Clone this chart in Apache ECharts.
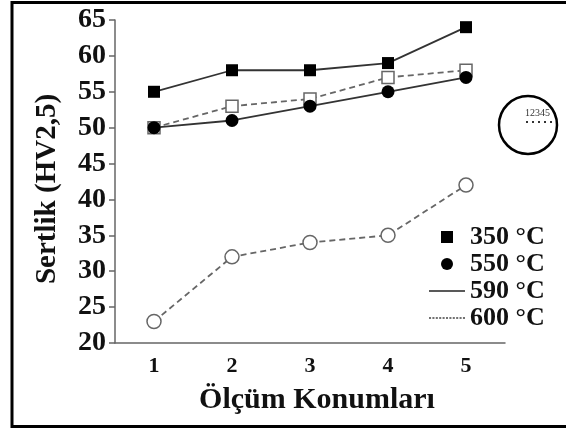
<!DOCTYPE html>
<html>
<head>
<meta charset="utf-8">
<script src="https://cdn.jsdelivr.net/npm/echarts@6/dist/echarts.min.js"></script>
<style>
html,body{margin:0;padding:0;background:#fff;}
#c{width:566px;height:431px;}
</style>
</head>
<body>
<div id="c"></div>
<script>
const categories = ['1', '2', '3', '4', '5'];
const s350 = [55, 58, 58, 59, 64];
const s550 = [50, 51, 53, 55, 57];
const s590 = [50, 53, 54, 57, 58];
const s600 = [23, 32, 34, 35, 42];
const legendNames = ['350 °C', '550 °C', '590 °C', '600 °C'];
const yTicks = { min: 20, max: 65, interval: 5 };
const xTitle = 'Ölçüm Konumları';
const yTitle = 'Sertlik (HV2,5)';

const FONT = '"Liberation Serif", "DejaVu Serif", serif';

// dotted legend icon path
let dotted = 'path://';
for (let i = 0; i < 11; i++) {
  const x = (i * 3.3).toFixed(2);
  dotted += 'M' + x + ',0h2v1.4h-2z';
}
const solid = 'path://M0,0h36v1.4h-36z';

const chart = echarts.init(document.getElementById('c'), null, { renderer: 'canvas' });
chart.setOption({
  animation: false,
  backgroundColor: '#fff',
  grid: { left: 115, right: 61, top: 20, bottom: 88, containLabel: false },
  xAxis: {
    type: 'category',
    data: categories,
    boundaryGap: true,
    name: xTitle,
    nameLocation: 'middle',
    nameGap: 42,
    nameTextStyle: { fontFamily: FONT, fontWeight: 'bold', fontSize: 30, color: '#111', padding: [0, 0, 0, 14] },
    axisLine: { lineStyle: { color: '#666', width: 1.5 } },
    axisTick: { alignWithLabel: true, length: 6, lineStyle: { color: '#666', width: 1.5 } },
    axisLabel: { fontFamily: FONT, fontWeight: 'bold', fontSize: 22, color: '#111', margin: 12 },
    splitLine: { show: false }
  },
  yAxis: {
    type: 'value',
    min: yTicks.min, max: yTicks.max, interval: yTicks.interval,
    axisLine: { show: true, lineStyle: { color: '#666', width: 1.5 } },
    axisTick: { show: true, length: 6, lineStyle: { color: '#666', width: 1.5 } },
    axisLabel: { fontFamily: FONT, fontWeight: 'bold', fontSize: 28, color: '#111', margin: 9 },
    splitLine: { show: false }
  },
  legend: {
    orient: 'vertical',
    left: 429,
    top: 224,
    padding: 0,
    itemWidth: 36,
    itemHeight: 12,
    itemGap: 1,
    symbolKeepAspect: true,
    textStyle: { fontFamily: FONT, fontWeight: 'bold', fontSize: 26, color: '#111', lineHeight: 26 },
    data: [
      { name: legendNames[0], icon: 'path://M0,0h10v10h-10z', itemStyle: { color: '#000', borderWidth: 0 } },
      { name: legendNames[1], icon: 'circle', itemStyle: { color: '#000', borderWidth: 0 } },
      { name: legendNames[2], icon: solid, itemStyle: { color: '#222', borderWidth: 0 } },
      { name: legendNames[3], icon: dotted, itemStyle: { color: '#444', borderWidth: 0 } }
    ]
  },
  series: [
    {
      name: legendNames[0], type: 'line', data: s350,
      symbol: 'rect', symbolSize: 12,
      itemStyle: { color: '#000' },
      lineStyle: { color: '#333', width: 1.8 }
    },
    {
      name: legendNames[1], type: 'line', data: s550,
      symbol: 'circle', symbolSize: 13,
      itemStyle: { color: '#000' },
      lineStyle: { color: '#333', width: 1.8 }
    },
    {
      name: legendNames[2], type: 'line', data: s590,
      symbol: 'rect', symbolSize: 12,
      itemStyle: { color: '#fff', borderColor: '#666', borderWidth: 1.5 },
      lineStyle: { color: '#666', width: 1.8, type: [6, 4] },
      z: 1
    },
    {
      name: legendNames[3], type: 'line', data: s600,
      symbol: 'circle', symbolSize: 14,
      itemStyle: { color: '#fff', borderColor: '#666', borderWidth: 1.5 },
      lineStyle: { color: '#666', width: 1.8, type: [6, 4] }
    }
  ],
  graphic: [
    {
      type: 'rect', silent: true,
      shape: { x: 12, y: 2.5, width: 600, height: 424 },
      style: { fill: 'none', stroke: '#000', lineWidth: 3 }
    },
    {
      type: 'text', silent: true, x: 48, y: 189, rotation: Math.PI / 2,
      style: { text: yTitle, fontFamily: FONT, fontWeight: 'bold', fontSize: 29, fill: '#111', align: 'center', verticalAlign: 'middle' }
    },
    {
      type: 'circle', silent: true,
      shape: { cx: 528, cy: 125, r: 29 },
      style: { fill: 'none', stroke: '#000', lineWidth: 2.5 }
    },
    {
      type: 'text', silent: true, x: 525, y: 108,
      style: { text: '12345', fontFamily: FONT, fontSize: 10, fill: '#333' }
    },
    {
      type: 'line', silent: true,
      shape: { x1: 526, y1: 122, x2: 554, y2: 122 },
      style: { stroke: '#333', lineWidth: 2, lineDash: [2, 4] }
    }
  ]
});
</script>
</body>
</html>
